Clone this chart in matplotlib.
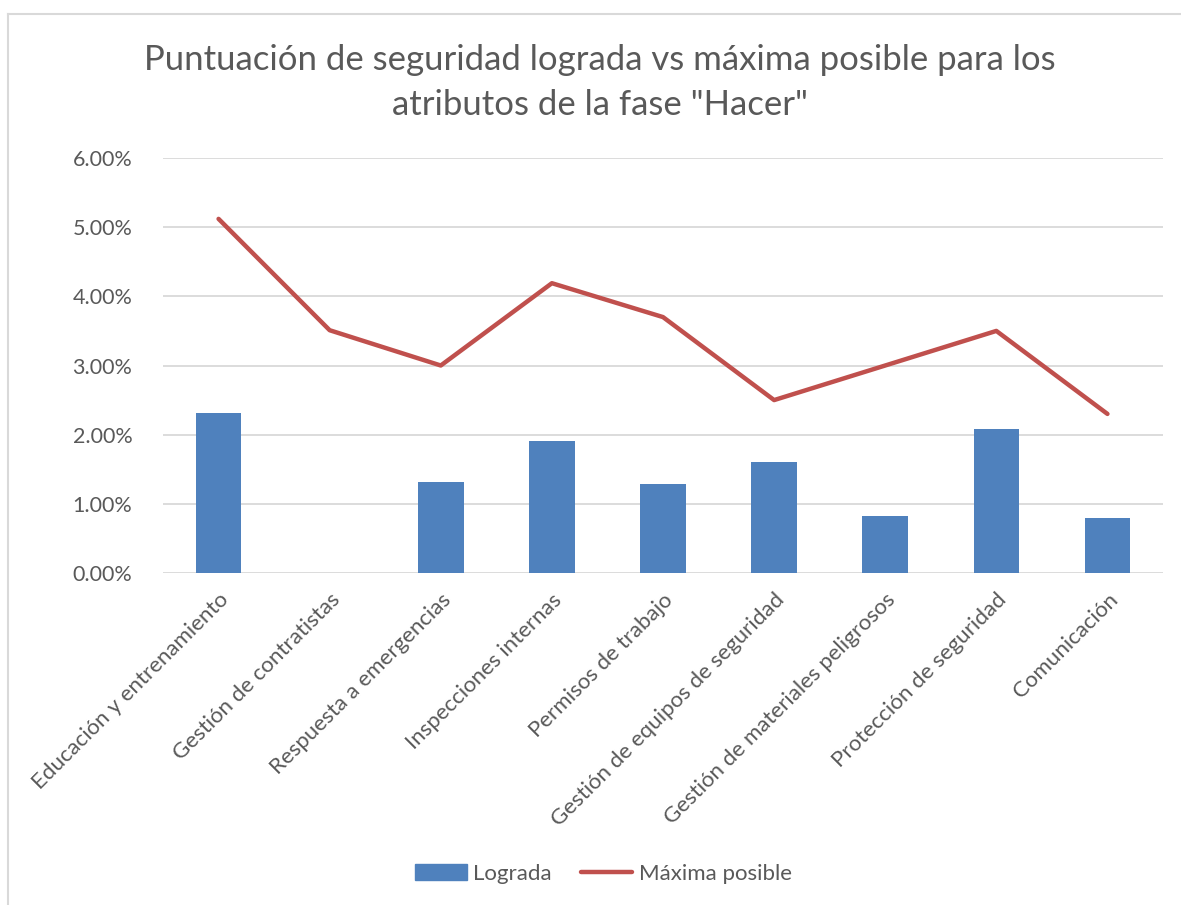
import matplotlib.pyplot as plt
import matplotlib.ticker as mticker
from matplotlib.lines import Line2D
import numpy as np

categorias = ["Educación y entrenamiento", "Gestión de contratistas",
              "Respuesta a emergencias", "Inspecciones internas",
              "Permisos de trabajo", "Gestión de equipos de seguridad",
              "Gestión de materiales peligrosos", "Protección de seguridad",
              "Comunicación"]
lograda = [2.32, 0.0, 1.32, 1.91, 1.29, 1.60, 0.82, 2.08, 0.79]
maxima = [5.12, 3.51, 3.00, 4.19, 3.70, 2.50, 3.00, 3.50, 2.30]

GRIS = "#595959"
plt.rcParams['font.family'] = ['Lato', 'DejaVu Sans']

fig = plt.figure(figsize=(11.81, 9.05), dpi=100)
ax = fig.add_axes([163 / 1181, 1 - 573 / 905, 1000 / 1181, 415 / 905])

x = np.arange(len(categorias))
ax.bar(x, lograda, width=0.41, color="#4f81bd", zorder=3, label="Lograda")
ax.plot(x, maxima, color="#c0504d", lw=3.2, solid_capstyle="round",
        solid_joinstyle="round", zorder=4, label="Máxima posible")

ax.set_xlim(-0.5, len(categorias) - 0.5)
ax.set_ylim(0, 6)
ax.yaxis.set_major_locator(mticker.MultipleLocator(1))
ax.yaxis.set_major_formatter(mticker.FuncFormatter(lambda v, p: f"{v:.2f}%"))
ax.grid(axis="y", color="#d9d9d9", lw=1.3, zorder=0)
for s in ax.spines.values():
    s.set_visible(False)
ax.tick_params(length=0, colors=GRIS)
ax.tick_params(axis="y", pad=22, labelsize=15.5)
ax.set_xticks(x)
ax.set_xticklabels(categorias, rotation=45, ha="right", rotation_mode="anchor")
ax.tick_params(axis="x", pad=12, labelsize=16)

# título en dos líneas
fig.text(0.508, 1 - 60 / 905, 'Puntuación de seguridad lograda vs máxima posible para los',
         ha="center", va="center", fontsize=25, color=GRIS)
fig.text(0.508, 1 - 105 / 905, 'atributos de la fase "Hacer"',
         ha="center", va="center", fontsize=25, color=GRIS)

handles = [plt.Rectangle((0, 0), 1, 1, color="#4f81bd"),
           Line2D([0], [0], color="#c0504d", lw=3.2, solid_capstyle="round")]
fig.legend(handles, ["Lograda", "Máxima posible"], loc="center",
           bbox_to_anchor=(0.511, 1 - 874 / 905), ncol=2, frameon=False,
           fontsize=16, labelcolor=GRIS, handlelength=2.3, handleheight=0.7,
           handletextpad=0.3, columnspacing=1.3)

# marco del gráfico
fig.add_artist(Line2D([8 / 1181, 8 / 1181], [0, 1 - 14 / 905], color="#d9d9d9", lw=1.5,
                      transform=fig.transFigure))
fig.add_artist(Line2D([8 / 1181, 1], [1 - 14 / 905, 1 - 14 / 905], color="#d9d9d9", lw=1.5,
                      transform=fig.transFigure))

fig.savefig("out.png", dpi=100)
